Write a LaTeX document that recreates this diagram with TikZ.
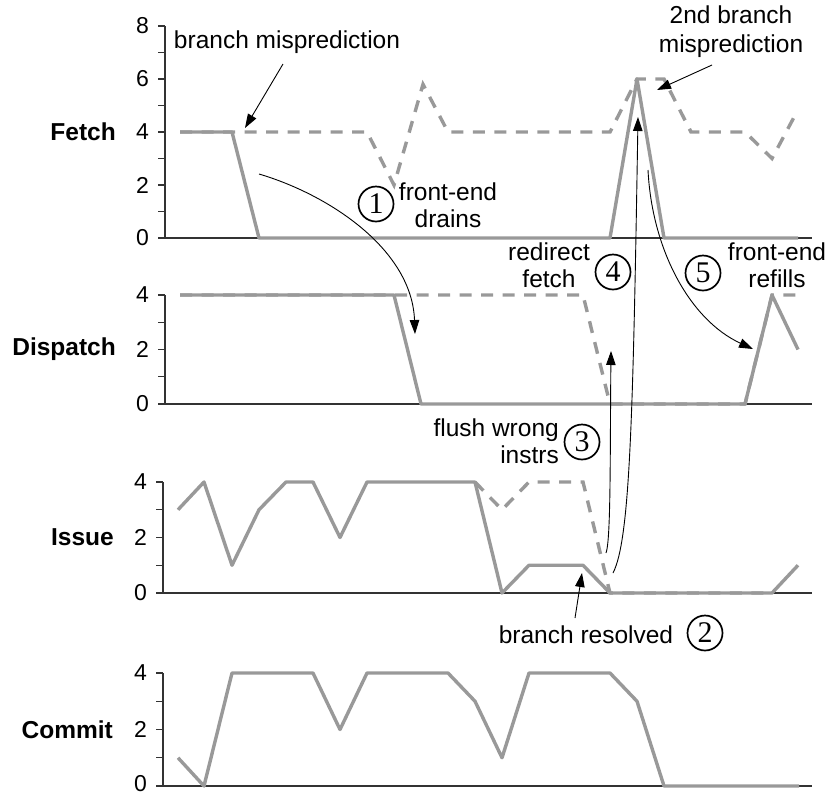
\documentclass[tikz,border=0pt]{standalone}
\usepackage{fontspec}
\setmainfont{Liberation Sans}
\newfontfamily\circfont{Liberation Serif}
\usetikzlibrary{arrows.meta}
\definecolor{trace}{HTML}{999999}
\definecolor{axisc}{HTML}{333333}
\begin{document}
\begin{tikzpicture}[x=1pt,y=-1pt,
  solidtrace/.style={trace, line width=3.4pt, line join=round},
  dashtrace/.style={trace, line width=3.4pt, dash pattern=on 12pt off 9.5pt},
  axisline/.style={axisc, line width=1.1pt},
  ticklabel/.style={anchor=east, inner sep=0pt, font=\fontsize{23}{23}\selectfont},
  rowlabel/.style={anchor=east, inner sep=0pt, font=\fontsize{24.5}{24.5}\selectfont\bfseries},
  note/.style={inner sep=0pt, align=center, font=\fontsize{24.5}{27}\selectfont},
  stepnum/.style={circle, draw, line width=1.7pt, minimum size=35pt, inner sep=0pt, font=\fontsize{30}{30}\circfont},
  pointer/.style={-{Triangle[length=14pt,width=9.5pt]}, line width=0.9pt}
]
\useasboundingbox (0,0) rectangle (829,796);

% ---------------- Fetch ----------------
\begin{scope}[shift={(0,238)}, y={(0,26.5pt)}]
  \draw[axisline] (165,8) -- (165,0) -- (812,0);
  \foreach \k in {0,...,8} \draw[axisline] (158,\k) -- (165,\k);
  \foreach \k in {0,2,4,6,8} \node[ticklabel] (ft\k) at (149,\k) {\k};
  \node[rowlabel] (fetchlbl) at (116,4) {Fetch};
  \draw[dashtrace] plot coordinates {(180,4) (367,4) (394,2) (423,5.8) (448,4) (610,4) (637,6) (664,6) (691,4) (745,4) (772,3) (796,4.7)};
  \draw[solidtrace] plot coordinates {(180,4) (232,4) (259,0) (610,0) (637,6) (664,0) (798,0)};
\end{scope}

% ---------------- Dispatch ----------------
\begin{scope}[shift={(0,404)}, y={(0,27.25pt)}]
  \draw[axisline] (165,4) -- (165,0) -- (812,0);
  \foreach \k in {0,...,4} \draw[axisline] (158,\k) -- (165,\k);
  \foreach \k in {0,2,4} \node[ticklabel] (dt\k) at (149,\k) {\k};
  \node[rowlabel] (displbl) at (116,2) {Dispatch};
  \draw[dashtrace] plot coordinates {(180,4) (583,4) (610,0) (745,0) (772,4) (798,4)};
  \draw[solidtrace] plot coordinates {(180,4) (394,4) (421,0) (745,0) (772,4) (798,2)};
\end{scope}

% ---------------- Issue ----------------
\begin{scope}[shift={(0,593)}, y={(0,27.75pt)}]
  \draw[axisline] (163,4) -- (163,0) -- (812,0);
  \foreach \k in {0,...,4} \draw[axisline] (156,\k) -- (163,\k);
  \foreach \k in {0,2,4} \node[ticklabel] (it\k) at (147,\k) {\k};
  \node[rowlabel] (isslbl) at (114,2) {Issue};
  \draw[dashtrace] plot coordinates {(475,4) (502,3) (529,4) (583,4) (610,0) (772,0)};
  \draw[solidtrace] plot coordinates {(178,3) (204,4) (232,1) (259,3) (286,4) (313,4) (340,2) (367,4) (475,4) (502,0) (529,1) (583,1) (610,0) (772,0) (798,1)};
\end{scope}

% ---------------- Commit ----------------
\begin{scope}[shift={(0,786)}, y={(0,28.25pt)}]
  \draw[axisline] (163,4) -- (163,0) -- (812,0);
  \foreach \k in {0,...,4} \draw[axisline] (156,\k) -- (163,\k);
  \foreach \k in {2,4} \node[ticklabel] (ct\k) at (147,\k) {\k};
  \node[ticklabel] (ct0) at (147,0.07) {0};
  \node[rowlabel] (comlbl) at (113,2) {Commit};
  \draw[solidtrace] plot coordinates {(178,1) (204,0) (232,4) (313,4) (340,2) (367,4) (448,4) (475,3) (502,1) (529,4) (610,4) (637,3) (664,0) (799,0)};
\end{scope}

% ---------------- annotations ----------------
\node[note] (mispred) at (287,42) {branch misprediction};
\node[note, font=\fontsize{24.5}{29}\selectfont] (mispredb) at (731,32) {2nd branch\\misprediction};
\node[note] (drains) at (448,205) {front-end\\drains};
\node[note] (redirect) at (549,265) {redirect\\fetch};
\node[note] (refills) at (777,265) {front-end\\refills};
\node[note, align=right, anchor=east] (flush) at (559,441) {flush wrong\\instrs};
\node[note] (resolved) at (586,635) {branch resolved};

\node[stepnum] (c1) at (376,204) {1};
\node[stepnum] (c2) at (705,633) {2};
\node[stepnum] (c3) at (582,442) {3};
\node[stepnum] (c4) at (613,272) {4};
\node[stepnum] (c5) at (703,273) {5};

% arrow end points
\coordinate (mpTail) at (283,64);   \coordinate (mpTip) at (245,128);
\coordinate (mbTail) at (712,65);   \coordinate (mbTip) at (657,90);
\coordinate (drTail) at (259,174);  \coordinate (drTip) at (415,334);
\coordinate (rsTail) at (575,618);  \coordinate (rsTip) at (582,573);
\coordinate (flTail) at (606,553);  \coordinate (flTip) at (611,351);
\coordinate (rdTail) at (613,573);  \coordinate (rdTip) at (638,117);
\coordinate (rfTail) at (648,170);  \coordinate (rfTip) at (753,349);

\draw[pointer] (mpTail) -- (mpTip);
\draw[pointer] (mbTail) -- (mbTip);
\draw[pointer] (drTail) .. controls (330,195) and (412,250) .. (drTip);
\draw[pointer] (rsTail) -- (rsTip);
\draw[pointer] (flTail) .. controls (611,540) and (610,450) .. (flTip);
\draw[pointer] (rdTail) .. controls (630,540) and (633,420) .. (rdTip);
\draw[pointer] (rfTail) .. controls (652,250) and (690,320) .. (rfTip);
\end{tikzpicture}
\end{document}
